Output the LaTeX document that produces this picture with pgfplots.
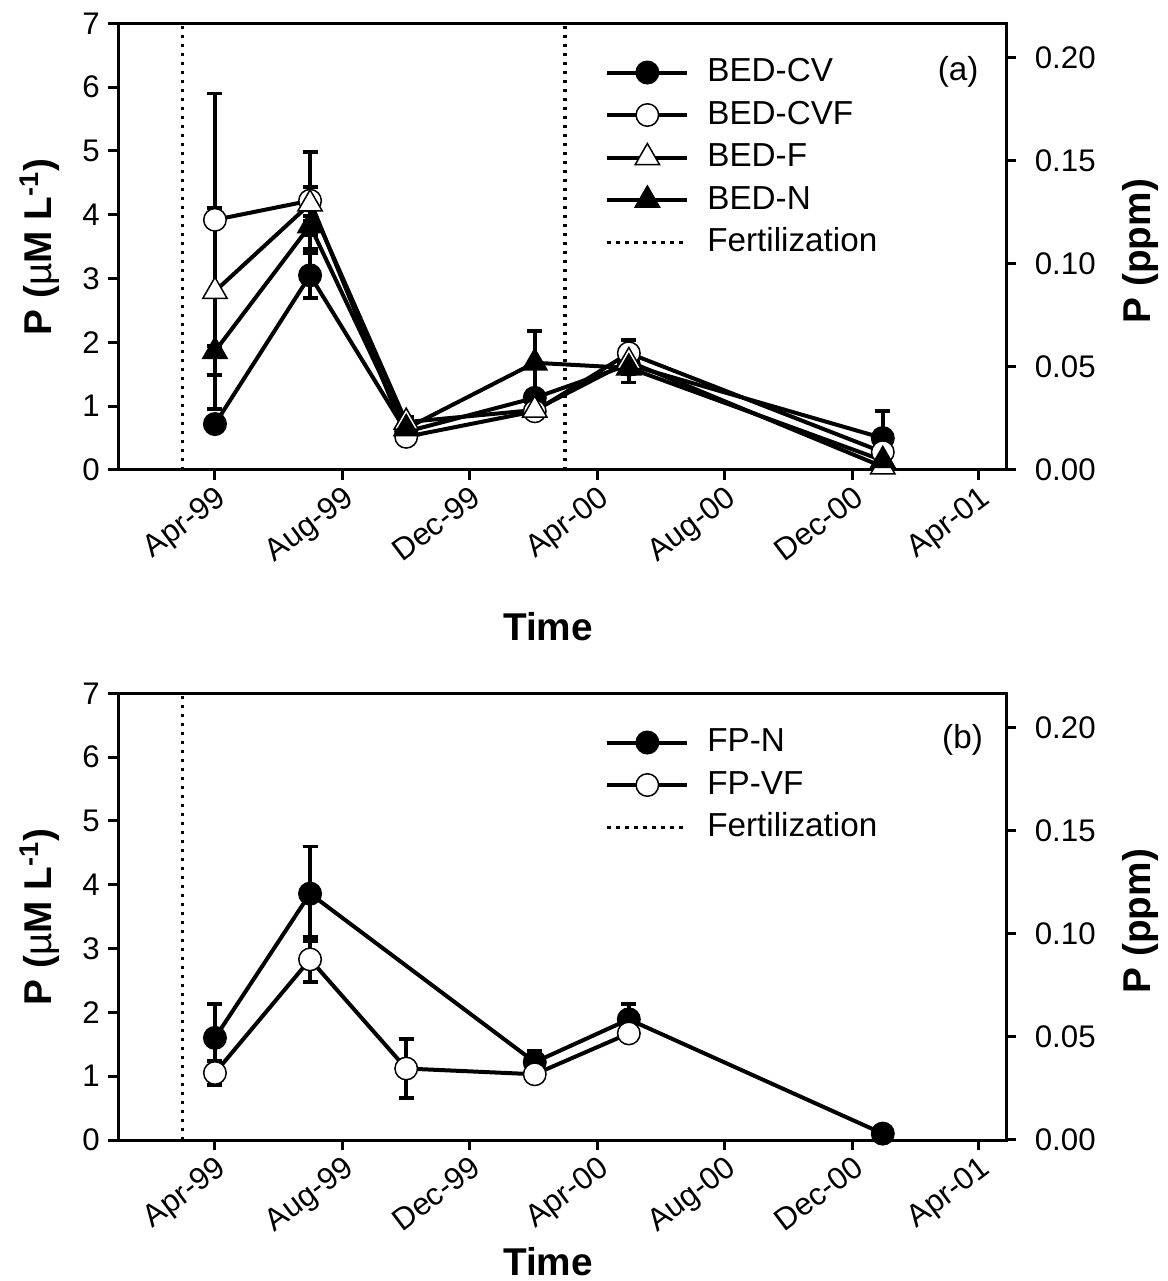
\documentclass[border=0pt]{standalone}
\usepackage{fontspec}
\setmainfont{Liberation Sans}
\usepackage{pgfplots}
\pgfplotsset{compat=1.18}

\pgfplotsset{
  basepanel/.style={
    scale only axis, width=355pt, height=178.7pt,
    xmin=-92.3, xmax=756.9,
    axis line style={line width=1.2pt},
    tick style={line width=1.2pt, black},
    major tick length=4pt,
    tick align=outside,
    /pgf/number format/assume math mode=true,
    yticklabel style={font=\fontsize{12.5}{12.5}\selectfont},
  },
  panel/.style={
    basepanel,
    ymin=0, ymax=7,
    xtick pos=bottom, ytick pos=left,
    xtick={0,122,244,366,488,610,731},
    xticklabels={Apr-99,Aug-99,Dec-99,Apr-00,Aug-00,Dec-00,Apr-01},
    ytick={0,1,2,3,4,5,6,7},
    xticklabel style={rotate=37, anchor=north east, font=\fontsize{12.5}{12.5}\selectfont, inner sep=1pt},
    ylabel={\textbf{P (}µ\textbf{M L}\textsuperscript{\textbf{-1}}\textbf{)}},
    ylabel style={at={(axis description cs:-0.0885,0.5)}, anchor=center, font=\fontsize{15.5}{15.5}\selectfont},
    xlabel style={anchor=center, font=\fontsize{15.5}{15.5}\selectfont\bfseries},
    legend cell align=left,
    legend style={draw=none, fill=none, inner sep=0pt, row sep=4.8pt,
      font=\fontsize{13.3}{13.3}\selectfont,
      nodes={inner sep=0pt, text height=9.7pt, text depth=2.5pt},
      /tikz/every odd column/.append style={column sep=7.2pt}},
    legend image code/.code={\draw[mark repeat=2,mark phase=2] plot coordinates {(0pt,0pt) (16pt,0pt) (32pt,0pt)};},
  },
  rightpanel/.style={
    basepanel,
    hide x axis, axis y line*=right,
    ymin=0, ymax=0.216818,
    ytick={0,0.05,0.1,0.15,0.2},
    yticklabel style={xshift=4pt, /pgf/number format/.cd, fixed, fixed zerofill, precision=2},
    ylabel={\textbf{P (ppm)}},
    ylabel style={at={(axis description cs:1.151,0.49)}, anchor=center, font=\fontsize{15.5}{15.5}\selectfont},
  },
  ser/.style={black, line width=1.6pt, mark=#1,
    error bars/y dir=both, error bars/y explicit,
    error bars/error mark=-,
    error bars/error bar style={line width=1.5pt, black},
    error bars/error mark options={rotate=90, line width=1.5pt, mark size=3pt, black}},
  filledcirc/.style={ser=*, mark options={solid, fill=black, line width=0.6pt}, mark size=4.5pt},
  opencirc/.style={ser=*, mark options={solid, fill=white, draw=black, line width=0.6pt}, mark size=4.5pt},
  filledtri/.style={ser=triangle*, mark options={solid, fill=black, line width=0.6pt}, mark size=5.6pt},
  opentri/.style={ser=triangle*, mark options={solid, fill=white, draw=black, line width=0.6pt}, mark size=5.6pt},
  fert/.style={black, line width=1.3pt, dash pattern=on 1.3pt off 2.3pt},
}

\begin{document}
\begin{tikzpicture}
\path[use as bounding box] (-47.4pt,-56.4pt) rectangle (419.4pt,456pt);

% ---------------- Panel (a) ----------------
\begin{axis}[panel, at={(0pt,268pt)}, anchor=south west,
  xlabel={Time}, xlabel style={at={(axis description cs:0.484,-0.3514)}},
  legend style={at={(rel axis cs:0.548,0.925)}, anchor=north west}]
\addplot[filledcirc] table[x=x,y=y,y error=e] {
x y e
0 0.72 0.10
91 3.05 0.35
183 0.60 0.05
306 1.13 0.10
396 1.65 0.28
639 0.50 0.43
};
\addlegendentry{BED-CV}
\addplot[opencirc] table[x=x,y=y,y error=e] {
x y e
0 3.92 1.98
91 4.22 0.76
183 0.52 0.05
306 0.92 0.05
396 1.83 0.21
639 0.28 0.05
};
\addlegendentry{BED-CVF}
\addplot[opentri] table[x=x,y=y,y error=e] {
x y e
0 2.80 1.31
91 4.17 0.27
183 0.75 0.08
306 0.94 0.05
396 1.70 0.10
639 0.05 0.03
};
\addlegendentry{BED-F}
\addplot[filledtri] table[x=x,y=y,y error=e] {
x y e
0 1.86 0.91
91 3.83 0.15
183 0.65 0.15
306 1.68 0.50
396 1.60 0.10
639 0.15 0.05
};
\addlegendentry{BED-N}
\addplot[fert] coordinates {(-31,0) (-31,7)};
\addlegendentry{Fertilization}
\addplot[fert, forget plot] coordinates {(335,0) (335,7)};
\node[font=\fontsize{13.3}{13.3}\selectfont] at (rel axis cs:0.946,0.891) {(a)};
\end{axis}
\begin{axis}[rightpanel, at={(0pt,268pt)}, anchor=south west]
\addplot[draw=none] coordinates {(0,0)};
\end{axis}

% ---------------- Panel (b) ----------------
\begin{axis}[panel, at={(0pt,0pt)}, anchor=south west,
  xlabel={Time}, xlabel style={at={(axis description cs:0.484,-0.273)}},
  legend style={at={(rel axis cs:0.548,0.925)}, anchor=north west}]
\addplot[filledcirc] table[x=x,y=y,y error=e] {
x y e
0 1.60 0.53
91 3.86 0.74
306 1.22 0.17
396 1.89 0.24
639 0.10 0.03
};
\addlegendentry{FP-N}
\addplot[opencirc] table[x=x,y=y,y error=e] {
x y e
0 1.05 0.19
91 2.83 0.35
183 1.12 0.46
306 1.03 0.10
396 1.67 0.10
};
\addlegendentry{FP-VF}
\addplot[fert] coordinates {(-31,0) (-31,7)};
\addlegendentry{Fertilization}
\node[font=\fontsize{13.3}{13.3}\selectfont] at (rel axis cs:0.951,0.895) {(b)};
\end{axis}
\begin{axis}[rightpanel, at={(0pt,0pt)}, anchor=south west]
\addplot[draw=none] coordinates {(0,0)};
\end{axis}
\end{tikzpicture}
\end{document}
